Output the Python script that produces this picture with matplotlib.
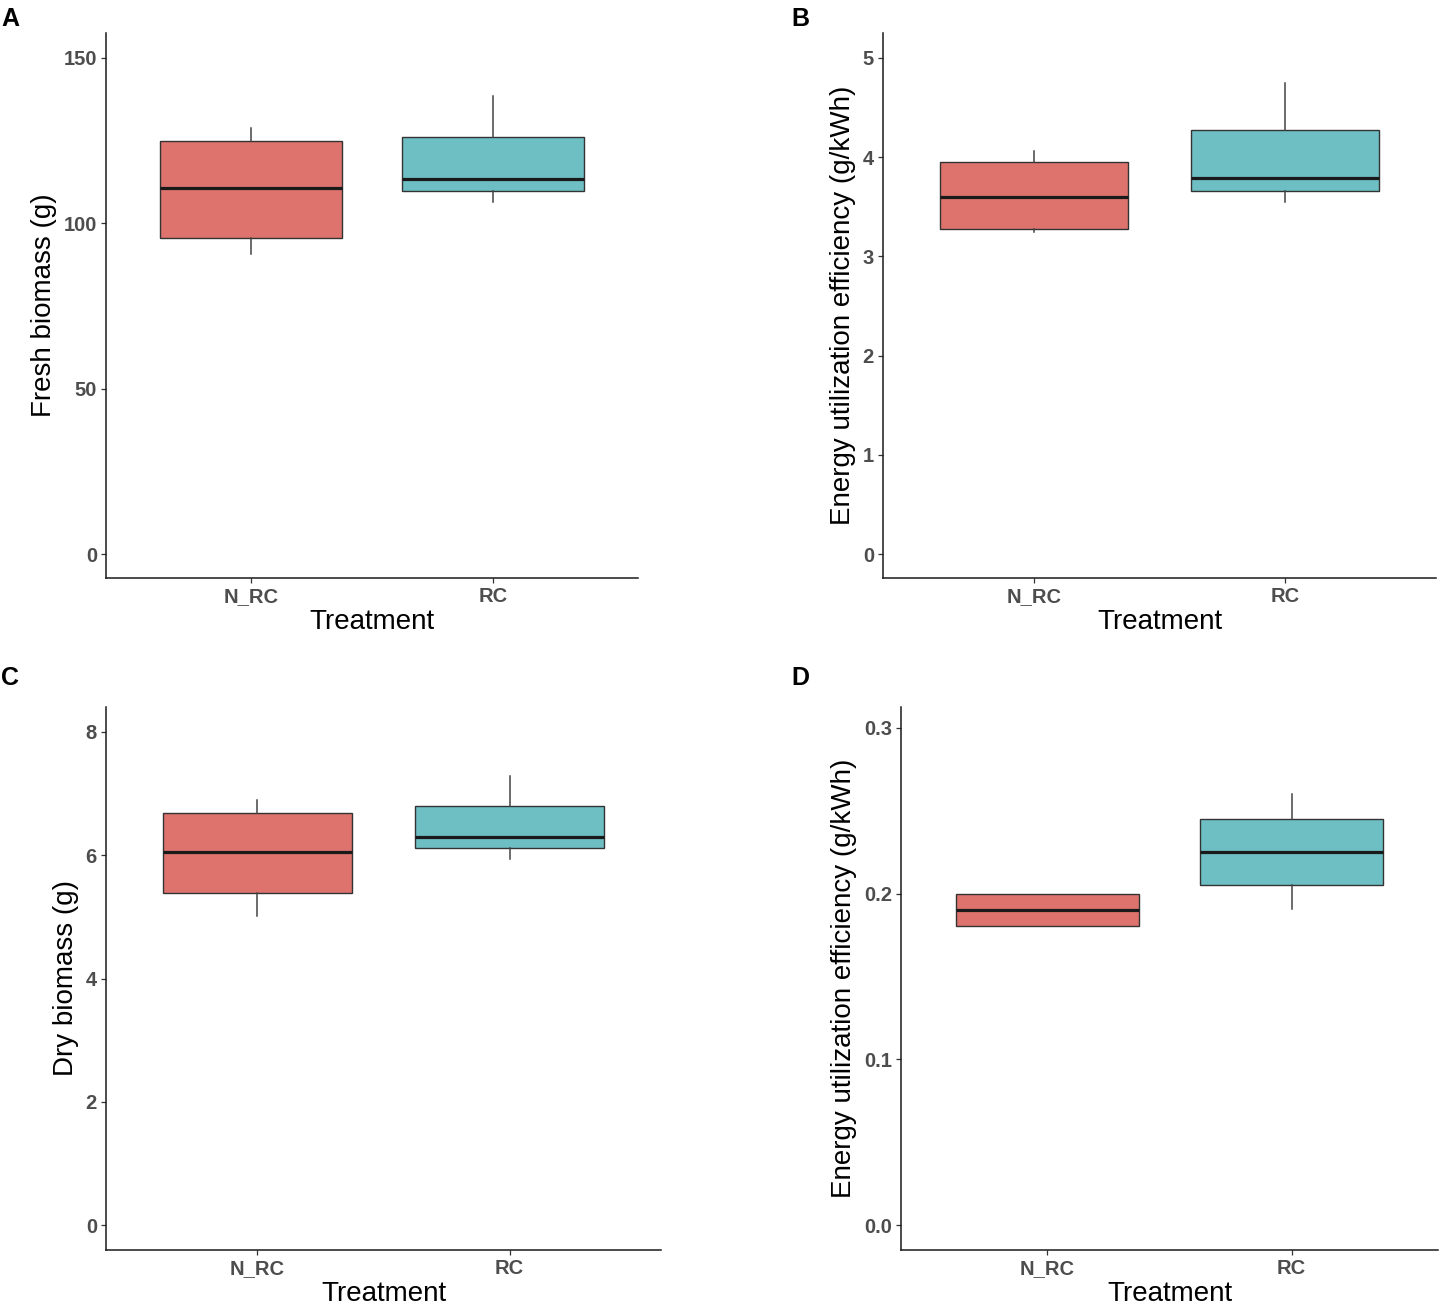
import matplotlib
matplotlib.use("Agg")
import matplotlib.pyplot as plt

plt.rcParams['font.family'] = ['Liberation Sans', 'DejaVu Sans']

categories = ["N_RC", "RC"]
fill_colors = ["#DE736D", "#6DBFC4"]

# Panel A: Fresh biomass (g) -- whislo, q1, median, q3, whishi
fresh_whislo = [90.8, 106.3]
fresh_q1 = [95.4, 109.9]
fresh_med = [110.7, 113.3]
fresh_q3 = [125.0, 126.0]
fresh_whishi = [128.9, 138.6]

# Panel B: Energy utilization efficiency (g/kWh), fresh
eue_f_whislo = [3.25, 3.55]
eue_f_q1 = [3.275, 3.663]
eue_f_med = [3.60, 3.785]
eue_f_q3 = [3.95, 4.27]
eue_f_whishi = [4.06, 4.75]

# Panel C: Dry biomass (g)
dry_whislo = [5.01, 5.93]
dry_q1 = [5.38, 6.11]
dry_med = [6.05, 6.30]
dry_q3 = [6.69, 6.79]
dry_whishi = [6.90, 7.28]

# Panel D: Energy utilization efficiency (g/kWh), dry
eue_d_whislo = [0.1803, 0.1904]
eue_d_q1 = [0.1803, 0.2051]
eue_d_med = [0.1899, 0.2248]
eue_d_q3 = [0.2000, 0.2448]
eue_d_whishi = [0.2000, 0.2600]

W, H = 1444, 1307
fig = plt.figure(figsize=(W / 100, H / 100), dpi=100)


def make_ax(left, right, top, bottom):
    return fig.add_axes([left / W, 1 - bottom / H, (right - left) / W, (bottom - top) / H])


panels = [
    dict(box=(106, 638, 33, 578), label="A", lab_xy=(1, 26),
         stats=(fresh_whislo, fresh_q1, fresh_med, fresh_q3, fresh_whishi),
         ylabel="Fresh biomass (g)", ylim=(-7.2, 157.5), yticks=[0, 50, 100, 150],
         fmt="{:.0f}"),
    dict(box=(883, 1436, 33, 578), label="B", lab_xy=(791, 26),
         stats=(eue_f_whislo, eue_f_q1, eue_f_med, eue_f_q3, eue_f_whishi),
         ylabel="Energy utilization efficiency (g/kWh)", ylim=(-0.24, 5.25),
         yticks=[0, 1, 2, 3, 4, 5], fmt="{:.0f}"),
    dict(box=(106, 661, 707, 1250), label="C", lab_xy=(1, 685),
         stats=(dry_whislo, dry_q1, dry_med, dry_q3, dry_whishi),
         ylabel="Dry biomass (g)", ylim=(-0.4, 8.4), yticks=[0, 2, 4, 6, 8],
         fmt="{:.0f}"),
    dict(box=(901, 1438, 707, 1250), label="D", lab_xy=(791, 685),
         stats=(eue_d_whislo, eue_d_q1, eue_d_med, eue_d_q3, eue_d_whishi),
         ylabel="Energy utilization efficiency (g/kWh)", ylim=(-0.015, 0.3125),
         yticks=[0.0, 0.1, 0.2, 0.3], fmt="{:.1f}"),
]

for p in panels:
    ax = make_ax(*p["box"])
    wl, q1, md, q3, wh = p["stats"]
    bstats = []
    for i, c in enumerate(categories):
        bstats.append(dict(label=c, whislo=wl[i], q1=q1[i], med=md[i], q3=q3[i],
                           whishi=wh[i], fliers=[]))
    bp = ax.bxp(bstats, positions=[1, 2], widths=0.75, patch_artist=True,
                showcaps=False, showfliers=False,
                boxprops=dict(edgecolor="#333333", linewidth=1.0),
                medianprops=dict(color="#1a1a1a", linewidth=2.3, solid_capstyle="butt"),
                whiskerprops=dict(color="#444444", linewidth=1.1))
    for patch, col in zip(bp["boxes"], fill_colors):
        patch.set_facecolor(col)
    ax.set_xlim(0.4, 2.6)
    ax.set_ylim(*p["ylim"])
    ax.set_yticks(p["yticks"])
    ax.set_yticklabels([p["fmt"].format(v) for v in p["yticks"]])
    ax.set_xticks([1, 2])
    ax.set_xticklabels(categories)
    for s in ["top", "right"]:
        ax.spines[s].set_visible(False)
    for s in ["left", "bottom"]:
        ax.spines[s].set_linewidth(1.1)
        ax.spines[s].set_color("#1a1a1a")
    ax.tick_params(axis="both", length=3.5, width=0.9, color="#333333",
                   labelsize=14.5, labelcolor="#4D4D4D", pad=3)
    for t in ax.get_xticklabels() + ax.get_yticklabels():
        t.set_fontweight("bold")
    ax.set_xlabel("Treatment", fontsize=20, color="black", labelpad=2)
    ax.set_ylabel(p["ylabel"], fontsize=20, color="black", labelpad=5)
    lx, ly = p["lab_xy"]
    fig.text(lx / W, 1 - ly / H, p["label"], fontsize=18, fontweight="bold",
             color="black", ha="left", va="baseline")

fig.savefig("out.png", dpi=100, facecolor="white")
